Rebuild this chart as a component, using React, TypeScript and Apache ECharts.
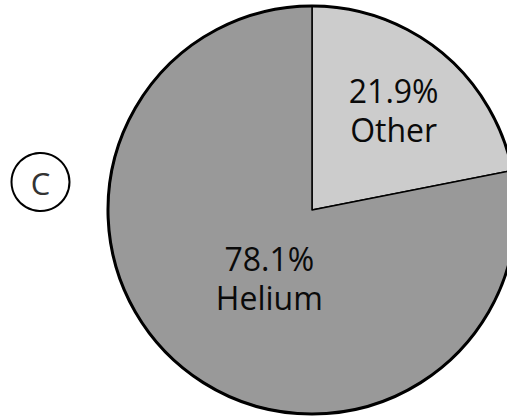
import React, { useEffect, useRef } from "react";
import * as echarts from "echarts";

const categories = ["Other", "Helium"];
const values = [21.9, 78.1];
const colors = ["#cccccc", "#999999"];
const panelLetter = "C";

export default function App() {
  const ref = useRef<HTMLDivElement>(null);
  useEffect(() => {
    document.body.style.margin = "0";
    const chart = echarts.init(ref.current!, null, { renderer: "svg" });
    const labelOffsets = [
      { dx: 15, dy: -19 },
      { dx: 24, dy: -13 },
    ];
    chart.setOption({
      animation: false,
      backgroundColor: "#ffffff",
      series: [
        {
          type: "pie",
          center: [312, 210],
          radius: [0, 204],
          startAngle: 90,
          clockwise: true,
          silent: true,
          data: categories.map((c, i) => ({
            name: c,
            value: values[i],
            itemStyle: { color: colors[i] },
          })),
          itemStyle: { borderColor: "#000000", borderWidth: 1.5 },
          label: {
            show: true,
            position: "inside",
            formatter: (p: any) => `${p.value.toFixed(1)}%\n${p.name}`,
            fontFamily: "Open Sans",
            fontSize: 32,
            lineHeight: 39,
            color: "#0a0a0a",
            align: "center",
          },
          labelLine: { show: false },
          labelLayout: (p: any) => labelOffsets[p.dataIndex],
        },
        {
          type: "pie",
          center: [312, 210],
          radius: [0, 204],
          silent: true,
          data: [{ value: 1, name: "outline" }],
          itemStyle: { color: "transparent", borderColor: "#000000", borderWidth: 3 },
          label: { show: false },
          labelLine: { show: false },
        },
      ],
      graphic: [
        {
          type: "circle",
          shape: { cx: 40.5, cy: 182, r: 29 },
          style: { fill: "#ffffff", stroke: "#000000", lineWidth: 2 },
        },
        {
          type: "text",
          x: 40.5,
          y: 183,
          style: {
            text: panelLetter,
            fontFamily: "Open Sans",
            fontSize: 31,
            fill: "#333333",
            align: "center",
            verticalAlign: "middle",
          },
        },
      ],
    });
    return () => chart.dispose();
  }, []);
  return <div ref={ref} style={{ width: 507, height: 419 }} />;
}
